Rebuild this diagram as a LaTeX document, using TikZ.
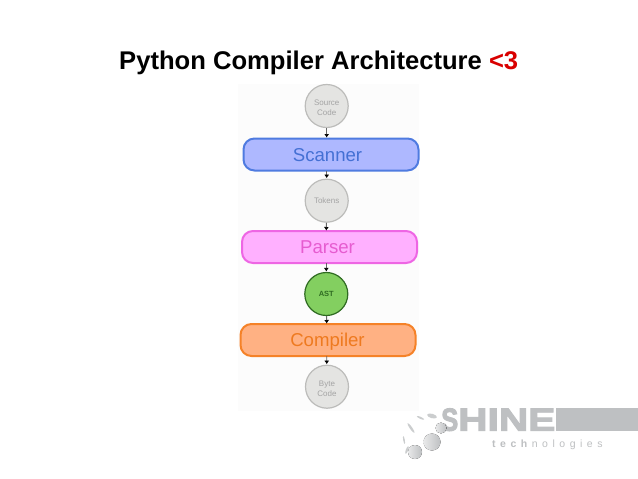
\documentclass[tikz,border=0pt]{standalone}
\usepackage{graphicx}
\usepackage{fontspec}
\setmainfont{Liberation Sans}
\usetikzlibrary{arrows.meta}
\definecolor{circfill}{HTML}{E4E4E2}
\definecolor{circline}{HTML}{BCBCBA}
\definecolor{circtext}{HTML}{A4A4A4}
\definecolor{scanfill}{HTML}{AEB8FF}
\definecolor{scanline}{HTML}{4F7BE0}
\definecolor{scantext}{HTML}{4470D4}
\definecolor{parsefill}{HTML}{FFB0FF}
\definecolor{parseline}{HTML}{EE66E4}
\definecolor{parsetext}{HTML}{E65CD0}
\definecolor{compfill}{HTML}{FFB183}
\definecolor{compline}{HTML}{F58228}
\definecolor{comptext}{HTML}{EE7A20}
\definecolor{astfill}{HTML}{83CF60}
\definecolor{astline}{HTML}{2F6B22}
\definecolor{logogray}{HTML}{BEC0C2}
\tikzset{
  x=1pt,y=-1pt,
  datanode/.style={circle,draw=circline,fill=circfill,line width=1.2pt,minimum size=43pt,inner sep=0pt,align=center,text=circtext,font=\fontsize{8}{10}\selectfont},
  phase/.style={rounded corners=11pt,line width=2pt,minimum width=175pt,minimum height=32pt,inner sep=0pt,text height=13.3pt,text depth=0pt,font=\fontsize{18.6}{20}\selectfont},
  flow/.style={draw=black!60,line width=0.9pt,-{Latex[length=3.5pt,width=5pt,black]},shorten >=0.5pt},
  logoball/.style={left color=logogray!35,right color=logogray,draw=none},
  logosliver/.style={fill=logogray!80,draw=none}
}
\begin{document}
\begin{tikzpicture}
\useasboundingbox (0,0) rectangle (638,479);
\fill[white] (0,0) rectangle (638,479);
\fill[black!1] (238,84) rectangle (419,411);
\node[font=\bfseries\fontsize{25.6}{30}\selectfont,anchor=base west,inner sep=0pt] (title) at (119,69.5) {Python Compiler Architecture \textcolor{red!85!black}{<3}};

\node[datanode] (src) at (326.7,106) {\rule{0pt}{10pt}Source\\Code};
\node[phase,draw=scanline,fill=scanfill,text=scantext] (scan) at (331,154.5) {Scanner\hspace*{7pt}};
\node[datanode] (tok) at (326.7,200.7) {Tokens};
\node[phase,draw=parseline,fill=parsefill,text=parsetext] (parse) at (329.5,247) {Parser\hspace*{4pt}};
\node[datanode,draw=astline,fill=astfill,text=astline,font=\bfseries\fontsize{7.5}{9}\selectfont] (ast) at (326.3,294) {AST};
\node[phase,draw=compline,fill=compfill,text=comptext] (comp) at (328,340) {Compiler\hspace*{1pt}};
\node[datanode] (byte) at (327,386.7) {\rule{0pt}{10pt}Byte\\Code};

\coordinate (scanT) at (326.7,138);
\coordinate (scanB) at (326.7,171);
\coordinate (parseT) at (326.3,231);
\coordinate (parseB) at (326.3,263);
\coordinate (compT) at (326.7,324);
\coordinate (compB) at (326.7,356);
\draw[flow] (src) -- (scanT);
\draw[flow] (scanB) -- (tok);
\draw[flow] (tok) -- (parseT);
\draw[flow] (parseB) -- (ast);
\draw[flow] (ast) -- (compT);
\draw[flow] (compB) -- (byte);

% logo
\fill[logogray] (556,408) rectangle (638,431);
\node[anchor=west,inner sep=0pt,text=logogray,font=\bfseries\fontsize{32}{32}\selectfont] (shine) at (441,419.7) {\addfontfeature{FakeBold=3}\scalebox{.8}[1]{S}\scalebox{1.27}[1]{HINE}};
\node[anchor=base west,inner sep=0pt,text=logogray,font=\fontsize{10.5}{12}\selectfont] (tech) at (492,447.5) {\addfontfeature{LetterSpace=43}\textbf{tech}nologies};
\foreach \x/\y/\r in {432/442/8.5,415/452/7,441/428/5.5}
  \fill[logoball] (\x,\y) circle (\r);
\fill[logosliver,rotate around={-15:(432,416)}] (432,416) ellipse (5 and 2.2);
\fill[logosliver,rotate around={-25:(421,417)}] (421,418) ellipse (4 and 1);
\fill[logosliver,rotate around={-55:(411,428)}] (411,428) ellipse (6 and 1.2);
\fill[logosliver,rotate around={-80:(404,440)}] (404,440) ellipse (4 and 0.8);
\fill[logosliver,rotate around={70:(407,450)}] (407,450) ellipse (4 and 1.2);
\end{tikzpicture}
\end{document}
